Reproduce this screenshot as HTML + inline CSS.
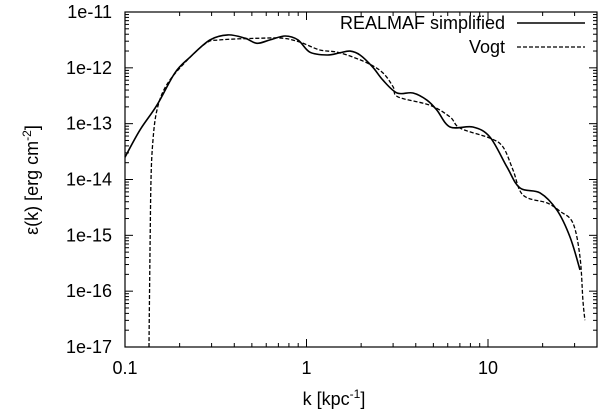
<!DOCTYPE html>
<html><head><meta charset="utf-8"><style>
body{margin:0;background:#fff}
svg{display:block;font-family:"Liberation Sans",sans-serif}
</style></head><body>
<svg id="c" width="600" height="414"></svg>
<script>
const xTicks=[0.1,1,10];
const xTickLabels=["0.1","1","10"];
const yTickExps=[-11,-12,-13,-14,-15,-16,-17];
const yTickLabels=["1e-11","1e-12","1e-13","1e-14","1e-15","1e-16","1e-17"];
const realLogK=[-1.000,-0.917,-0.824,-0.725,-0.642,-0.532,-0.433,-0.339,-0.273,-0.201,-0.118,-0.047,0.019,0.113,0.184,0.240,0.295,0.366,0.421,0.499,0.587,0.664,0.719,0.791,0.917,1.011,1.105,1.176,1.287,1.380,1.452,1.507];
const realLogE=[-13.60,-13.11,-12.67,-12.09,-11.81,-11.50,-11.41,-11.47,-11.56,-11.50,-11.43,-11.50,-11.72,-11.77,-11.73,-11.70,-11.77,-11.99,-12.22,-12.45,-12.45,-12.58,-12.76,-13.06,-13.06,-13.24,-13.78,-14.15,-14.24,-14.55,-15.03,-15.62];
const vogtLogK=[-0.868,-0.862,-0.857,-0.846,-0.824,-0.780,-0.697,-0.559,-0.477,-0.256,-0.129,-0.036,0.074,0.184,0.333,0.421,0.477,0.504,0.680,0.791,0.846,1.011,1.083,1.138,1.193,1.325,1.397,1.468,1.507,1.523,1.534];
const vogtLogE=[-17.0,-15.27,-14.01,-13.29,-12.76,-12.36,-12.00,-11.57,-11.50,-11.47,-11.47,-11.54,-11.68,-11.73,-11.91,-12.09,-12.34,-12.52,-12.67,-12.88,-13.08,-13.26,-13.42,-13.83,-14.28,-14.42,-14.57,-14.78,-15.39,-16.16,-16.52];

const L=125,R=597,T=12,B=347;
const xMinL=-1,xMaxL=-1+(R-L)/181.5;
const X=lk=>L+(lk-xMinL)/(xMaxL-xMinL)*(R-L);
const Y=le=>T+(-11-le)/6*(B-T);
const svg=document.getElementById('c');const NS='http://www.w3.org/2000/svg';
function mk(t,a,p){const e=document.createElementNS(NS,t);for(const k in a)e.setAttribute(k,a[k]);(p||svg).appendChild(e);return e;}
const frame=mk('rect',{x:L,y:T,width:R-L,height:B-T,fill:'none',stroke:'#000','stroke-width':1.2});


for(let d=-1;d<2;d++){for(let m=1;m<10;m++){const lk=d+Math.log10(m);if(lk>xMaxL)continue;const x=X(lk);const len=m==1?8:4;
const t1=mk('line',{x1:x,x2:x,y1:B,y2:B-len,stroke:'#000'});
const t2=mk('line',{x1:x,x2:x,y1:T,y2:T+len,stroke:'#000'});}}
xTicks.forEach((v,i)=>{const t=mk('text',{x:X(Math.log10(v)),y:B+27,'text-anchor':'middle','font-size':18});t.textContent=xTickLabels[i];
});
for(let e=-17;e<=-11;e++){for(let m=1;m<10;m++){const le=e+Math.log10(m);if(le>-11)continue;const y=Y(le);const len=m==1?8:4;
const t1=mk('line',{x1:L,x2:L+len,y1:y,y2:y,stroke:'#000'});
const t2=mk('line',{x1:R,x2:R-len,y1:y,y2:y,stroke:'#000'});}}
yTickExps.forEach((v,i)=>{const t=mk('text',{x:L-13,y:Y(v)+6,'text-anchor':'end','font-size':18});t.textContent=yTickLabels[i];
});
function smooth(a,b){const p=a.map((v,i)=>[X(v),Y(b[i])]);let d='M'+p[0][0].toFixed(1)+','+p[0][1].toFixed(1);
for(let i=0;i<p.length-1;i++){const p0=p[Math.max(i-1,0)],p1=p[i],p2=p[i+1],p3=p[Math.min(i+2,p.length-1)];
const c1=[p1[0]+(p2[0]-p0[0])/6,p1[1]+(p2[1]-p0[1])/6],c2=[p2[0]-(p3[0]-p1[0])/6,p2[1]-(p3[1]-p1[1])/6];
d+=' C'+c1[0].toFixed(1)+','+c1[1].toFixed(1)+' '+c2[0].toFixed(1)+','+c2[1].toFixed(1)+' '+p2[0].toFixed(1)+','+p2[1].toFixed(1);}return d;}
const s1=mk('path',{d:smooth(realLogK,realLogE),fill:'none',stroke:'#000','stroke-width':1.6,'stroke-linejoin':'round'});

const s2=mk('path',{d:smooth(vogtLogK,vogtLogE),fill:'none',stroke:'#000','stroke-width':1.3,'stroke-dasharray':'4,2'});

</script>
<svg width="600" height="414" style="position:absolute;left:0;top:0">
<g font-family="Liberation Sans, sans-serif" font-size="18">
<text x="505" y="29" text-anchor="end">REALMAF simplified</text>
<line x1="517" x2="585" y1="23" y2="23" stroke="#000" stroke-width="1.6"/>
<text x="505" y="53" text-anchor="end">Vogt</text>
<line x1="517" x2="585" y1="47" y2="47" stroke="#000" stroke-width="1.3" stroke-dasharray="4,2"/>
<text x="334" y="405" text-anchor="middle">k [kpc<tspan dy="-7" font-size="12">-1</tspan><tspan dy="7">]</tspan></text>
<text transform="translate(38,180) rotate(-90)" text-anchor="middle">ε(k)  [erg cm<tspan dy="-7" font-size="12">-2</tspan><tspan dy="7">]</tspan></text>
</g></svg>
</body></html>
